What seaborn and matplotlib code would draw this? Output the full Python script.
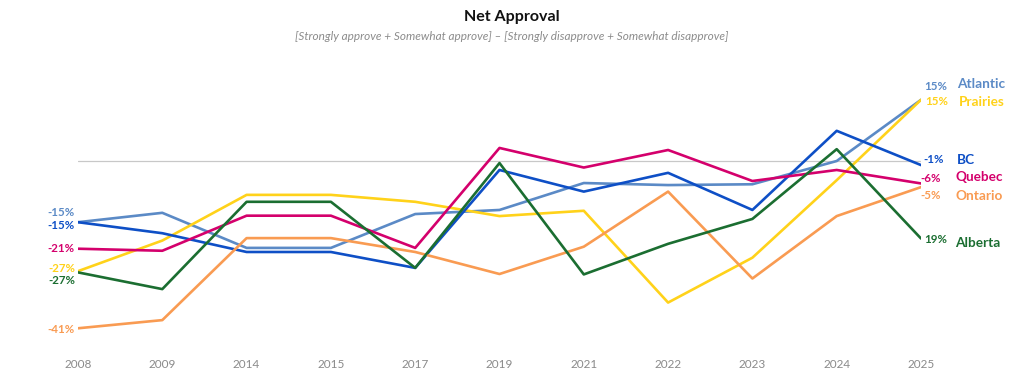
import pandas as pd
import matplotlib.pyplot as plt
import seaborn as sns

# Net approval by region
years = ['2008', '2009', '2014', '2015', '2017', '2019', '2021', '2022', '2023', '2024', '2025']
atlantic = [-15, -12.7, -21.3, -21.3, -13, -12, -5.4, -5.9, -5.7, 0, 15]
prairies = [-27, -19.5, -8.3, -8.3, -10, -13.5, -12.2, -34.7, -23.7, -4.7, 15]
bc = [-15, -17.7, -22.3, -22.3, -26.2, -2.2, -7.5, -2.9, -12, 7.4, -1]
quebec = [-21.5, -22, -13.4, -13.4, -21.3, 3.2, -1.6, 2.7, -4.9, -2.2, -5.5]
ontario = [-41, -39, -18.9, -18.9, -22.3, -27.7, -21, -7.5, -28.8, -13.5, -6.4]
alberta = [-27.3, -31.4, -10, -10, -26.2, -0.5, -27.8, -20.3, -14.2, 2.9, -19]

regions = ['Atlantic', 'Prairies', 'BC', 'Quebec', 'Ontario', 'Alberta']
colors = {'Atlantic': '#5B8AC6', 'Prairies': '#FFD21A', 'BC': '#0E4FC6',
          'Quebec': '#D4006C', 'Ontario': '#F99B52', 'Alberta': '#1B6E31'}
# labels shown at both ends of each line
start_labels = ['-15%', '-27%', '-15%', '-21%', '-41%', '-27%']
end_labels = ['15%', '15%', '-1%', '-6%', '-5%', '19%']

series = dict(zip(regions, [atlantic, prairies, bc, quebec, ontario, alberta]))
rows = []
for r in regions:
    for i, y in enumerate(years):
        rows.append({'Year': y, 'Region': r, 'Net': series[r][i]})
df = pd.DataFrame(rows)

sns.set_style('white')
plt.rcParams['font.family'] = ['Lato', 'DejaVu Sans']

fig = plt.figure(figsize=(10.24, 3.86), dpi=100)
ax = fig.add_axes([78 / 1024, 1 - 355 / 386, (921 - 78) / 1024, (355 - 40) / 386])

ax.axhline(0, color='#C8C8C8', lw=0.9, zorder=0)
sns.lineplot(data=df, x='Year', y='Net', hue='Region',
             palette=colors, hue_order=regions, sort=False, lw=1.9,
             legend=False, ax=ax)

ax.set_xlim(0, len(years) - 1)
ax.set_ylim(-47.55, 29.66)
ax.set_yticks([])
ax.set_xlabel('')
ax.set_ylabel('')
ax.tick_params(axis='x', length=0, pad=3, labelsize=8.5, labelcolor='#8A8A8A')
for s in ax.spines.values():
    s.set_visible(False)

# offsets in pixels (start label, end value, end name)
start_dy = {'Atlantic': 10, 'Prairies': 3, 'BC': -3, 'Quebec': 0, 'Ontario': -1, 'Alberta': -8}
end_dy = {'Atlantic': 13, 'Prairies': -2, 'BC': 6, 'Quebec': 5, 'Ontario': -8, 'Alberta': -1}
name_dy = {'Atlantic': 16, 'Prairies': -2, 'BC': 5, 'Quebec': 6, 'Ontario': -9, 'Alberta': -4}
name_dx = {'Atlantic': 36, 'Prairies': 38, 'BC': 36, 'Quebec': 34, 'Ontario': 34, 'Alberta': 34}
end_dx = {'Atlantic': 3, 'Prairies': 4, 'BC': 2, 'Quebec': -1, 'Ontario': -1, 'Alberta': 3}

last = len(years) - 1
for k, r in enumerate(regions):
    c = colors[r]
    ax.annotate(start_labels[k], xy=(0, series[r][0]), xytext=(-3, start_dy[r]),
                textcoords='offset pixels', ha='right', va='center', color=c,
                fontsize=8.3, fontweight='bold', annotation_clip=False,
                bbox=dict(boxstyle='square,pad=0.15', fc='white', ec='none'))
    ax.annotate(end_labels[k], xy=(last, series[r][-1]), xytext=(end_dx[r], end_dy[r]),
                textcoords='offset pixels', ha='left', va='center', color=c,
                fontsize=8.3, fontweight='bold', annotation_clip=False)
    ax.annotate(r, xy=(last, series[r][-1]), xytext=(name_dx[r], name_dy[r]),
                textcoords='offset pixels', ha='left', va='center', color=c,
                fontsize=9.8, fontweight='bold', annotation_clip=False)

fig.text(0.5, 1 - 17 / 386, 'Net Approval', ha='center', va='center',
         fontsize=11.5, fontweight='bold', color='#111111')
fig.text(0.5, 1 - 36 / 386,
         '[Strongly approve + Somewhat approve] \u2013 [Strongly disapprove + Somewhat disapprove]',
         ha='center', va='center', fontsize=8.5, style='italic', color='#8C8C8C')

fig.savefig('out.png', dpi=100, facecolor='white')
